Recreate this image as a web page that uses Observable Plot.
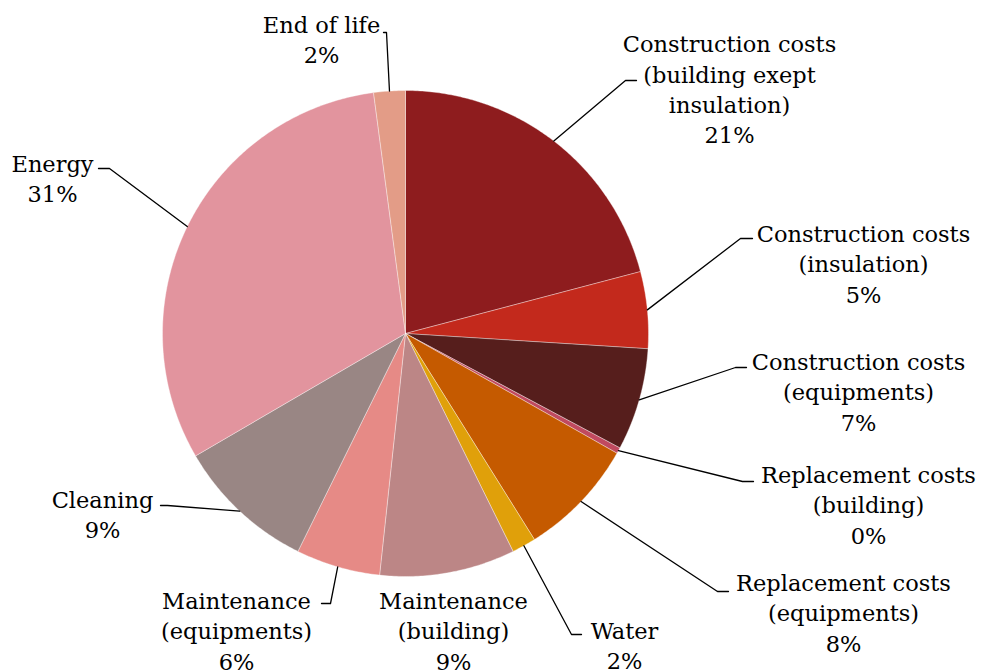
<!DOCTYPE html>
<html>
<head>
<meta charset="utf-8">
<script src="https://cdn.jsdelivr.net/npm/d3@7"></script>
<script src="https://cdn.jsdelivr.net/npm/@observablehq/plot@0.6"></script>
<style>
  html, body { margin: 0; padding: 0; background: #ffffff; }
  #chart { width: 984px; height: 671px; }
</style>
</head>
<body>
<div id="chart"></div>
<script>
// ---- Data ----
const categories = [
  "Construction costs\n(building exept\ninsulation)",
  "Construction costs\n(insulation)",
  "Construction costs\n(equipments)",
  "Replacement costs\n(building)",
  "Replacement costs\n(equipments)",
  "Water",
  "Maintenance\n(building)",
  "Maintenance\n(equipments)",
  "Cleaning",
  "Energy",
  "End of life"
];
const values = [20.9, 5.1, 6.8, 0.4, 7.9, 1.6, 9.0, 5.6, 9.3, 31.3, 2.1];
const colors = ["#8E1C1E", "#C3291C", "#561E1C", "#C04A5F", "#C55A00", "#E0A00A",
                "#BC8686", "#E68A86", "#998684", "#E2949E", "#E39C87"];

// ---- Layout (pixel-unit coordinates) ----
const W = 984, H = 671;
const cx = 405, cy = 333, R = 243;
// label block centre, leader elbow and leader end (null = no leader)
const labelX   = [729, 863, 858, 868, 843, 624, 453, 236, 102, 52, 321];
const labelY   = [87.5, 262, 390, 503, 611, 644, 629, 629, 513, 176.5, 38];
const elbowX   = [625, 740, 735, 742, 717, 571, null, 330, 167, 109, 386];
const elbowY   = [80, 238, 367, 481, 591, 634, null, 603, 505, 168, 32];
const endX     = [636, 752, 746, 753, 728, 581, null, 321, 160, 98, 383];
const endY     = [80, 238, 367, 481, 591, 634, null, 603, 505, 168, 32];

const total = d3.sum(values);
const pie = d3.pie().sort(null).value(d => d)(values);

// slice polygons
const polys = [];
pie.forEach((p, i) => {
  const n = Math.max(2, Math.ceil((p.endAngle - p.startAngle) / 0.01));
  polys.push({i, x: cx, y: cy, color: colors[i]});
  for (let k = 0; k <= n; k++) {
    const a = p.startAngle + (p.endAngle - p.startAngle) * k / n;
    polys.push({i, x: cx + R * Math.sin(a), y: cy - R * Math.cos(a), color: colors[i]});
  }
  polys.push({i, x: cx, y: cy, color: colors[i]});
});

// leader lines
const leaders = [];
pie.forEach((p, i) => {
  if (elbowX[i] == null) return;
  const a = (p.startAngle + p.endAngle) / 2;
  leaders.push({i, x: cx + R * Math.sin(a), y: cy - R * Math.cos(a)});
  leaders.push({i, x: elbowX[i], y: elbowY[i]});
  leaders.push({i, x: endX[i], y: endY[i]});
});

const labels = categories.map((c, i) => ({
  text: c + "\n" + Math.round(values[i] / total * 100) + "%",
  x: labelX[i], y: labelY[i]
}));

const chart = Plot.plot({
  width: W, height: H,
  margin: 0,
  x: {domain: [0, W], range: [0, W], axis: null},
  y: {domain: [0, H], range: [0, H], axis: null},
  style: {background: "#ffffff", fontFamily: "'DejaVu Serif', serif"},
  marks: [
    Plot.line(polys, {x: "x", y: "y", z: "i", fill: "color", stroke: "#ffffff", strokeWidth: 0.6, strokeOpacity: 0.6, curve: "linear-closed"}),
    Plot.line(leaders, {x: "x", y: "y", z: "i", stroke: "#000000", strokeWidth: 1.3}),
    Plot.text(labels, {x: "x", y: "y", text: "text", fontSize: 22.5, lineHeight: 1.355, fill: "#000000", textAnchor: "middle", lineAnchor: "middle"})
  ]
});
document.getElementById("chart").appendChild(chart);
</script>
</body>
</html>
